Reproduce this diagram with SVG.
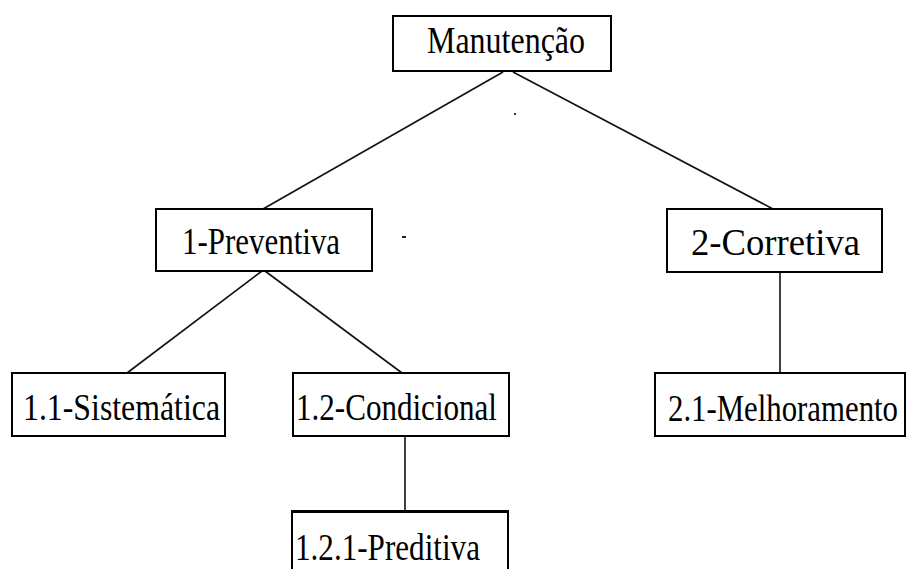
<svg xmlns="http://www.w3.org/2000/svg" width="906" height="569" viewBox="0 0 906 569">
<style>
.box{fill:#fff;stroke:#000;stroke-width:2}
.lbl{font-family:"Liberation Serif","Times New Roman",serif;font-size:37px;fill:#000}
.ln{stroke:#111;stroke-width:1.6;fill:none}
</style>
<rect width="906" height="569" fill="#fff"/>
<g id="connectors">
<line class="ln" x1="503" y1="72" x2="263" y2="209"/>
<line class="ln" x1="513" y1="72" x2="773" y2="209"/>
<line class="ln" x1="262" y1="271" x2="127" y2="373"/>
<line class="ln" x1="265" y1="271" x2="402" y2="373"/>
<line class="ln" x1="780" y1="272" x2="780" y2="373"/>
<line class="ln" x1="405" y1="436" x2="405" y2="511"/>
</g>
<g id="manutencao">
<rect class="box" x="393" y="16" width="218" height="55"/>
<text class="lbl" x="427" y="53" textLength="158" lengthAdjust="spacingAndGlyphs">Manutenção</text>
</g>
<g id="preventiva">
<rect class="box" x="156" y="209" width="216" height="62"/>
<text class="lbl" x="182" y="254" textLength="158" lengthAdjust="spacingAndGlyphs">1-Preventiva</text>
</g>
<g id="corretiva">
<rect class="box" x="667" y="209" width="215" height="63"/>
<text class="lbl" x="691" y="255" textLength="169" lengthAdjust="spacingAndGlyphs">2-Corretiva</text>
</g>
<g id="sistematica">
<rect class="box" x="12" y="373" width="213" height="63"/>
<text class="lbl" x="23" y="420" textLength="197" lengthAdjust="spacingAndGlyphs">1.1-Sistemática</text>
</g>
<g id="condicional">
<rect class="box" x="293" y="373" width="216" height="63"/>
<text class="lbl" x="296" y="420" textLength="201" lengthAdjust="spacingAndGlyphs">1.2-Condicional</text>
</g>
<g id="melhoramento">
<rect class="box" x="655" y="373" width="250" height="63"/>
<text class="lbl" transform="translate(668,421) scale(1,1.19)" x="0" y="0" style="font-size:31px" textLength="230" lengthAdjust="spacingAndGlyphs">2.1-Melhoramento</text>
</g>
<g id="preditiva">
<rect class="box" x="292" y="511" width="216" height="70"/>
<line x1="291" y1="511.5" x2="509" y2="511.5" stroke="#000" stroke-width="3"/>
<text class="lbl" x="295" y="560" textLength="185" lengthAdjust="spacingAndGlyphs">1.2.1-Preditiva</text>
</g>
<rect x="514" y="113" width="2" height="2" fill="#333"/>
<rect x="402" y="236" width="4" height="2" fill="#222"/>
</svg>
